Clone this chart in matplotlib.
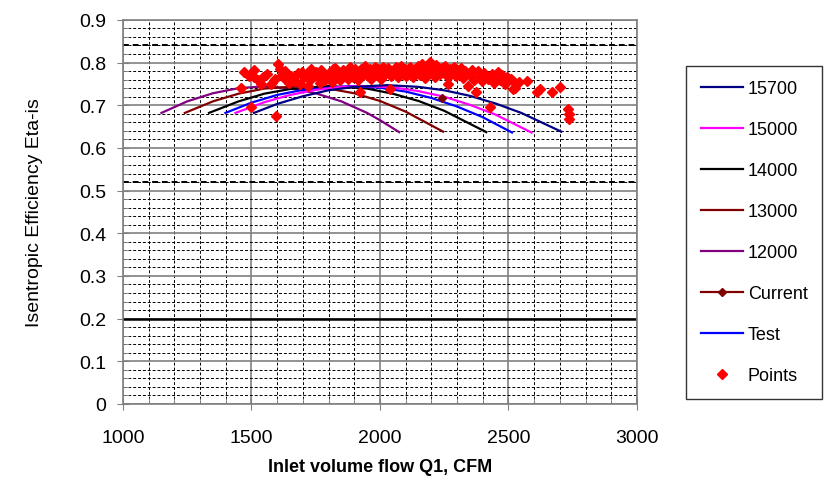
import matplotlib.pyplot as plt
from matplotlib.ticker import MultipleLocator, FormatStrFormatter
from matplotlib.lines import Line2D

plt.rcParams['font.family'] = ['Liberation Sans', 'DejaVu Sans']

# speed curves (flow CFM, efficiency)
x_12000 = [1150, 1250, 1350, 1450, 1550, 1650, 1750, 1850, 1950, 2000, 2075]
y_12000 = [0.682, 0.709, 0.728, 0.740, 0.744, 0.740, 0.728, 0.709, 0.682, 0.665, 0.637]

x_13000 = [1241, 1350, 1450, 1550, 1676, 1800, 1900, 2000, 2100, 2246]
y_13000 = [0.682, 0.709, 0.727, 0.739, 0.744, 0.739, 0.728, 0.710, 0.685, 0.638]

x_14000 = [1335, 1450, 1550, 1650, 1803, 1950, 2050, 2150, 2250, 2414]
y_14000 = [0.682, 0.709, 0.727, 0.738, 0.745, 0.739, 0.727, 0.710, 0.687, 0.637]

x_test = [1399, 1500, 1600, 1700, 1881, 2000, 2100, 2200, 2300, 2400, 2514]
y_test = [0.682, 0.706, 0.724, 0.736, 0.745, 0.741, 0.732, 0.717, 0.697, 0.672, 0.636]

x_15000 = [1438, 1550, 1650, 1750, 1850, 1936, 2050, 2150, 2250, 2350, 2450, 2590]
y_15000 = [0.682, 0.707, 0.724, 0.736, 0.743, 0.745, 0.742, 0.733, 0.720, 0.701, 0.678, 0.636]

x_15700 = [1510, 1600, 1700, 1800, 1900, 2028, 2150, 2250, 2350, 2450, 2550, 2706]
y_15700 = [0.682, 0.703, 0.721, 0.735, 0.743, 0.747, 0.743, 0.735, 0.722, 0.704, 0.682, 0.638]

x_current = [2240]
y_current = [0.716]

pts_x = [1458, 1471, 1490, 1510, 1510, 1500, 1525, 1545, 1539, 1560, 1578, 1591, 1597,
         1604, 1612, 1620, 1630, 1630, 1645, 1655, 1669, 1680, 1688, 1695, 1705,
         1715, 1720, 1728, 1733, 1742, 1750, 1759, 1765, 1772, 1780, 1788, 1798,
         1805, 1812, 1818, 1824, 1830, 1838, 1845, 1850, 1858, 1864, 1870, 1876,
         1882, 1888, 1895, 1902, 1908, 1915, 1921, 1928, 1934, 1941, 1948, 1954,
         1960, 1966, 1972, 1980, 1986, 1993, 2000, 2006, 2012, 2018, 2025, 2032,
         2038, 2044, 2050, 2058, 2064, 2070, 2077, 2084, 2090, 2097, 2103, 2110,
         2116, 2122, 2129, 2136, 2142, 2149, 2155, 2162, 2168, 2175, 2181, 2188,
         2194, 2200, 2207, 2213, 2220, 2226, 2232, 2240, 2248, 2255, 2260, 2265,
         2265, 2272, 2280, 2288, 2295, 2302, 2310, 2317, 2325, 2332, 2343, 2350,
         2358, 2365, 2375, 2382, 2390, 2398, 2405, 2412, 2421, 2428, 2435, 2442,
         2450, 2459, 2466, 2475, 2485, 2495, 2511, 2519, 2524, 2519, 2540, 2571,
         2610, 2623, 2668, 2700, 2730, 2735, 2735]
pts_y = [0.741, 0.777, 0.768, 0.782, 0.765, 0.695, 0.758, 0.765, 0.749, 0.772, 0.749, 0.761, 0.675,
         0.796, 0.786, 0.770, 0.780, 0.761, 0.752, 0.768, 0.757, 0.775, 0.749, 0.777, 0.765,
         0.772, 0.745, 0.760, 0.784, 0.768, 0.778, 0.765, 0.753, 0.782, 0.770, 0.760, 0.769,
         0.778, 0.755, 0.786, 0.788, 0.766, 0.775, 0.760, 0.773, 0.783, 0.768, 0.778, 0.761,
         0.790, 0.772, 0.765, 0.784, 0.776, 0.758, 0.730, 0.786, 0.770, 0.792, 0.779, 0.769,
         0.785, 0.762, 0.776, 0.789, 0.770, 0.784, 0.776, 0.761, 0.790, 0.772, 0.782, 0.788,
         0.737, 0.768, 0.779, 0.777, 0.790, 0.765, 0.783, 0.792, 0.774, 0.786, 0.768, 0.773,
         0.790, 0.780, 0.766, 0.784, 0.775, 0.792, 0.770, 0.796, 0.783, 0.764, 0.788, 0.773,
         0.802, 0.790, 0.778, 0.767, 0.795, 0.784, 0.772, 0.788, 0.778, 0.792, 0.770, 0.765,
         0.749, 0.785, 0.776, 0.790, 0.768, 0.782, 0.774, 0.788, 0.763, 0.779, 0.745, 0.770,
         0.783, 0.760, 0.730, 0.780, 0.770, 0.757, 0.775, 0.765, 0.761, 0.695, 0.772, 0.752,
         0.768, 0.777, 0.760, 0.770, 0.749, 0.765, 0.761, 0.757, 0.741, 0.738, 0.754, 0.757,
         0.730, 0.738, 0.730, 0.742, 0.692, 0.679, 0.667]

fig = plt.figure(figsize=(8.25, 4.85), dpi=100)
ax = fig.add_axes([0.149, 0.165, 0.623, 0.792])

ax.set_xlim(1000, 3000)
ax.set_ylim(0, 0.9)
ax.xaxis.set_major_locator(MultipleLocator(500))
ax.xaxis.set_minor_locator(MultipleLocator(100))
ax.yaxis.set_major_locator(MultipleLocator(0.1))
ax.yaxis.set_minor_locator(MultipleLocator(0.02))
ax.yaxis.set_major_formatter(FormatStrFormatter('%g'))

ax.grid(which='major', color='#808080', linestyle='-', linewidth=1.2)
ax.grid(which='minor', color='black', linestyle=(0, (3, 2)), linewidth=0.7)
ax.axhline(0.2, color='black', linewidth=1.8, zorder=1)
for yy in (0.52, 0.84):
    ax.axhline(yy, color='black', linestyle=(0, (3, 2)), linewidth=1.4, zorder=1)
ax.set_axisbelow(True)

for s in ax.spines.values():
    s.set_color('#808080')
    s.set_linewidth(1.2)
ax.tick_params(which='major', direction='inout', length=8, color='#808080', labelsize=14)
ax.tick_params(which='minor', direction='in', length=4, color='#808080')
ax.tick_params(axis='x', pad=14)
ax.tick_params(axis='y', pad=8)

ax.set_xlabel('Inlet volume flow Q1, CFM', fontsize=13, fontweight='bold', labelpad=9)
ax.set_ylabel('Isentropic Efficiency Eta-is', fontsize=14, labelpad=26)

lw = 1.6
h12, = ax.plot(x_12000, y_12000, color='#800080', lw=lw, label='12000')
h13, = ax.plot(x_13000, y_13000, color='#800000', lw=lw, label='13000')
h14, = ax.plot(x_14000, y_14000, color='black', lw=lw, label='14000')
hts, = ax.plot(x_test, y_test, color='#0000FF', lw=lw, label='Test')
h15, = ax.plot(x_15000, y_15000, color='#FF00FF', lw=lw, label='15000')
h157, = ax.plot(x_15700, y_15700, color='#000080', lw=lw, label='15700')
ax.plot(pts_x, pts_y, linestyle='none', marker='D', ms=5.2, color='#FF0000')
ax.plot(x_current, y_current, linestyle='none', marker='D', ms=4.5, color='#800000')
hcur = Line2D([], [], color='#800000', lw=lw, marker='D', ms=4, label='Current')
hpt_leg = Line2D([], [], linestyle='none', marker='D', ms=5, color='#FF0000', label='Points')

leg = fig.legend(handles=[h157, h15, h14, h13, h12, hcur, hts, hpt_leg],
                 loc='upper left', bbox_to_anchor=(0.832, 0.862),
                 fontsize=13, frameon=True, fancybox=False, edgecolor='black',
                 handlelength=2.35, handletextpad=0.25, labelspacing=1.33,
                 borderpad=0.8, borderaxespad=0)
leg.get_frame().set_linewidth(1.0)

fig.savefig('out.png', dpi=100)
